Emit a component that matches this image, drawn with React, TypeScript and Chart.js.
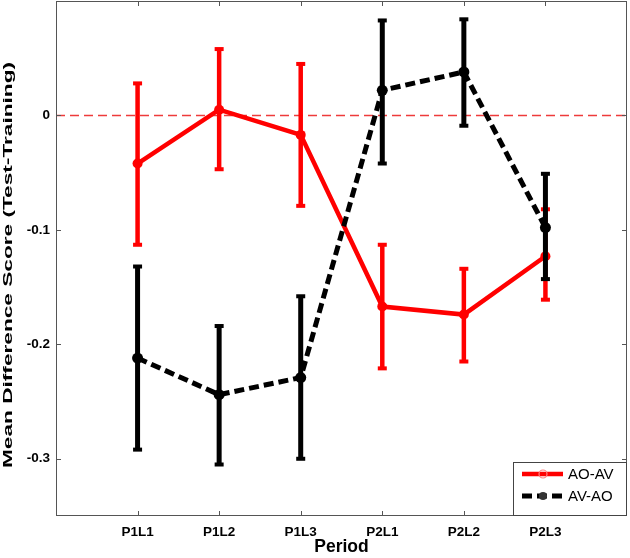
import React, { useEffect, useRef } from 'react';
import { Chart, registerables } from 'chart.js';

Chart.register(...registerables);

const categories = ['P1L1', 'P1L2', 'P1L3', 'P2L1', 'P2L2', 'P2L3'];
const yTickValues = [-0.3, -0.2, -0.1, 0];
const yTitle = 'Mean Difference Score (Test-Training)';
const xTitle = 'Period';

const aoavMean = [-0.042, 0.005, -0.017, -0.167, -0.174, -0.123];
const aoavLower = [-0.113, -0.047, -0.079, -0.221, -0.215, -0.161];
const aoavUpper = [0.028, 0.058, 0.045, -0.113, -0.134, -0.082];

const avaoMean = [-0.212, -0.244, -0.229, 0.022, 0.038, -0.098];
const avaoLower = [-0.292, -0.305, -0.3, -0.042, -0.009, -0.143];
const avaoUpper = [-0.132, -0.184, -0.158, 0.083, 0.084, -0.051];

const FONT = 'Arial, "Liberation Sans", sans-serif';

export default function App() {
  const ref = useRef<HTMLCanvasElement>(null);

  useEffect(() => {
    const canvas = ref.current!;

    const zeroLine = {
      id: 'zeroLine',
      beforeDatasetsDraw(chart: any) {
        const { ctx, chartArea, scales } = chart;
        const y = scales.y.getPixelForValue(0);
        ctx.save();
        ctx.strokeStyle = '#ee3b3b';
        ctx.lineWidth = 1.4;
        ctx.setLineDash([9, 5]);
        ctx.beginPath();
        ctx.moveTo(chartArea.left, y);
        ctx.lineTo(chartArea.right, y);
        ctx.stroke();
        ctx.restore();
      },
    };

    const errorBars = {
      id: 'errorBars',
      beforeDatasetDraw(chart: any, args: any) {
        const ds: any = chart.data.datasets[args.index];
        if (!ds.lower) return;
        const { ctx, scales } = chart;
        ctx.save();
        ctx.strokeStyle = ds.errColor;
        ctx.fillStyle = ds.errColor;
        ctx.setLineDash([]);
        ctx.lineWidth = ds.errWidth;
        ds.data.forEach((p: any, i: number) => {
          const x = scales.x.getPixelForValue(p.x);
          const yl = scales.y.getPixelForValue(ds.lower[i]);
          const yu = scales.y.getPixelForValue(ds.upper[i]);
          ctx.beginPath();
          ctx.moveTo(x, yl);
          ctx.lineTo(x, yu);
          ctx.stroke();
          const cw = 9;
          const ch = 4;
          ctx.fillRect(x - cw / 2, yl - ch / 2, cw, ch);
          ctx.fillRect(x - cw / 2, yu - ch / 2, cw, ch);
        });
        ctx.restore();
      },
    };

    const frame = {
      id: 'frame',
      afterDraw(chart: any) {
        const { ctx, chartArea, scales } = chart;
        const { left, right, top, bottom } = chartArea;
        ctx.save();
        ctx.strokeStyle = '#555';
        ctx.lineWidth = 1;
        ctx.setLineDash([]);
        ctx.strokeRect(left + 0.5, top + 0.5, right - left - 1, bottom - top - 1);
        const tl = 5;
        ctx.beginPath();
        categories.forEach((_, i) => {
          const x = Math.round(scales.x.getPixelForValue(i + 1)) + 0.5;
          ctx.moveTo(x, bottom);
          ctx.lineTo(x, bottom - tl);
          ctx.moveTo(x, top);
          ctx.lineTo(x, top + tl);
        });
        yTickValues.forEach((v) => {
          const y = Math.round(scales.y.getPixelForValue(v)) + 0.5;
          ctx.moveTo(left, y);
          ctx.lineTo(left + tl, y);
          ctx.moveTo(right, y);
          ctx.lineTo(right - tl, y);
        });
        ctx.stroke();

        // y-axis title (stretched along its length as in the reference)
        ctx.save();
        ctx.font = 'bold 13px ' + FONT;
        const w = ctx.measureText(yTitle).width;
        const targetLen = 406;
        ctx.translate(11.5, 265);
        ctx.rotate(-Math.PI / 2);
        ctx.scale(targetLen / w, 1);
        ctx.fillStyle = '#000';
        ctx.textAlign = 'center';
        ctx.textBaseline = 'alphabetic';
        ctx.fillText(yTitle, 0, 0);
        ctx.restore();

        // legend
        const bx = 513;
        const by = 462;
        const bw = right - bx;
        const bh = bottom - by;
        ctx.fillStyle = '#fff';
        ctx.fillRect(bx, by, bw, bh);
        ctx.strokeStyle = '#444';
        ctx.lineWidth = 1;
        ctx.strokeRect(bx + 0.5, by + 0.5, bw - 1, bh - 1);

        const rows = chart.data.datasets
          .slice()
          .sort((a: any, b: any) => a.legendIndex - b.legendIndex);
        rows.forEach((ds: any, k: number) => {
          const cy = by + 12 + k * 22;
          const x0 = 522;
          const x1 = 563;
          const cx = 543;
          ctx.strokeStyle = ds.borderColor;
          ctx.lineWidth = ds.borderWidth;
          ctx.setLineDash(ds.borderDash || []);
          ctx.beginPath();
          ctx.moveTo(x0, cy);
          ctx.lineTo(x1, cy);
          ctx.stroke();
          ctx.setLineDash([]);
          ctx.beginPath();
          ctx.arc(cx, cy, 4, 0, Math.PI * 2);
          if (ds.legendFilled) {
            ctx.fillStyle = '#333';
            ctx.fill();
          } else {
            ctx.lineWidth = 1.2;
            ctx.strokeStyle = '#ff8080';
            ctx.stroke();
          }
          ctx.fillStyle = '#000';
          ctx.font = '15px ' + FONT;
          ctx.textBaseline = 'middle';
          ctx.textAlign = 'left';
          ctx.fillText(ds.label, 568, cy + 1);
        });
        ctx.restore();
      },
    };

    const chart = new Chart(canvas, {
      type: 'line',
      data: {
        datasets: [
          {
            label: 'AV-AO',
            data: avaoMean.map((y, i) => ({ x: i + 1, y })),
            borderColor: '#000',
            backgroundColor: '#000',
            borderWidth: 5,
            borderDash: [10, 5],
            pointRadius: 5.5,
            pointBackgroundColor: '#000',
            pointBorderWidth: 0,
            tension: 0,
            order: 0,
            lower: avaoLower,
            upper: avaoUpper,
            errColor: '#000',
            errWidth: 5,
            legendIndex: 1,
            legendFilled: true,
          } as any,
          {
            label: 'AO-AV',
            data: aoavMean.map((y, i) => ({ x: i + 1, y })),
            borderColor: '#ff0000',
            backgroundColor: '#ff0000',
            borderWidth: 4.5,
            pointRadius: 5,
            pointBackgroundColor: '#ff0000',
            pointBorderWidth: 0,
            tension: 0,
            order: 1,
            lower: aoavLower,
            upper: aoavUpper,
            errColor: '#ff0000',
            errWidth: 4.5,
            legendIndex: 0,
            legendFilled: false,
          } as any,
        ],
      },
      options: {
        animation: false,
        responsive: false,
        layout: { autoPadding: false, padding: { left: 0, top: 1, right: 3, bottom: 0 } },
        plugins: {
          legend: { display: false },
          tooltip: { enabled: false },
        },
        scales: {
          x: {
            type: 'linear',
            min: 0,
            max: 7,
            afterBuildTicks: (scale: any) => {
              scale.ticks = categories.map((_, i) => ({ value: i + 1 }));
            },
            afterFit: (scale: any) => {
              scale.height = 42;
              scale.paddingLeft = 0;
              scale.paddingRight = 0;
            },
            grid: { display: false, drawTicks: false },
            border: { display: false },
            ticks: {
              autoSkip: false,
              maxRotation: 0,
              padding: 8,
              color: '#000',
              font: { family: FONT, size: 13.5, weight: 'bold' },
              callback: (v: any) => categories[Number(v) - 1] ?? '',
            },
            title: {
              display: true,
              text: xTitle,
              color: '#000',
              padding: 0,
              font: { family: FONT, size: 17.5, weight: 'bold' },
            },
          },
          y: {
            type: 'linear',
            min: -0.35,
            max: 0.1,
            afterBuildTicks: (scale: any) => {
              scale.ticks = yTickValues.map((v) => ({ value: v }));
            },
            afterFit: (scale: any) => {
              scale.width = 56;
              scale.paddingTop = 0;
              scale.paddingBottom = 0;
            },
            grid: { display: false, drawTicks: false },
            border: { display: false },
            ticks: {
              padding: 6,
              color: '#000',
              font: { family: FONT, size: 13.5, weight: 'bold' },
              callback: (v: any) => (Number(v) === 0 ? '0' : Number(v).toFixed(1)),
            },
            title: { display: false },
          },
        },
      } as any,
      plugins: [zeroLine, errorBars, frame],
    });

    return () => chart.destroy();
  }, []);

  return (
    <div style={{ position: 'absolute', left: 0, top: 0, width: 630, height: 558, background: '#fff' }}>
      <canvas ref={ref} width={630} height={558} style={{ display: 'block' }} />
    </div>
  );
}
